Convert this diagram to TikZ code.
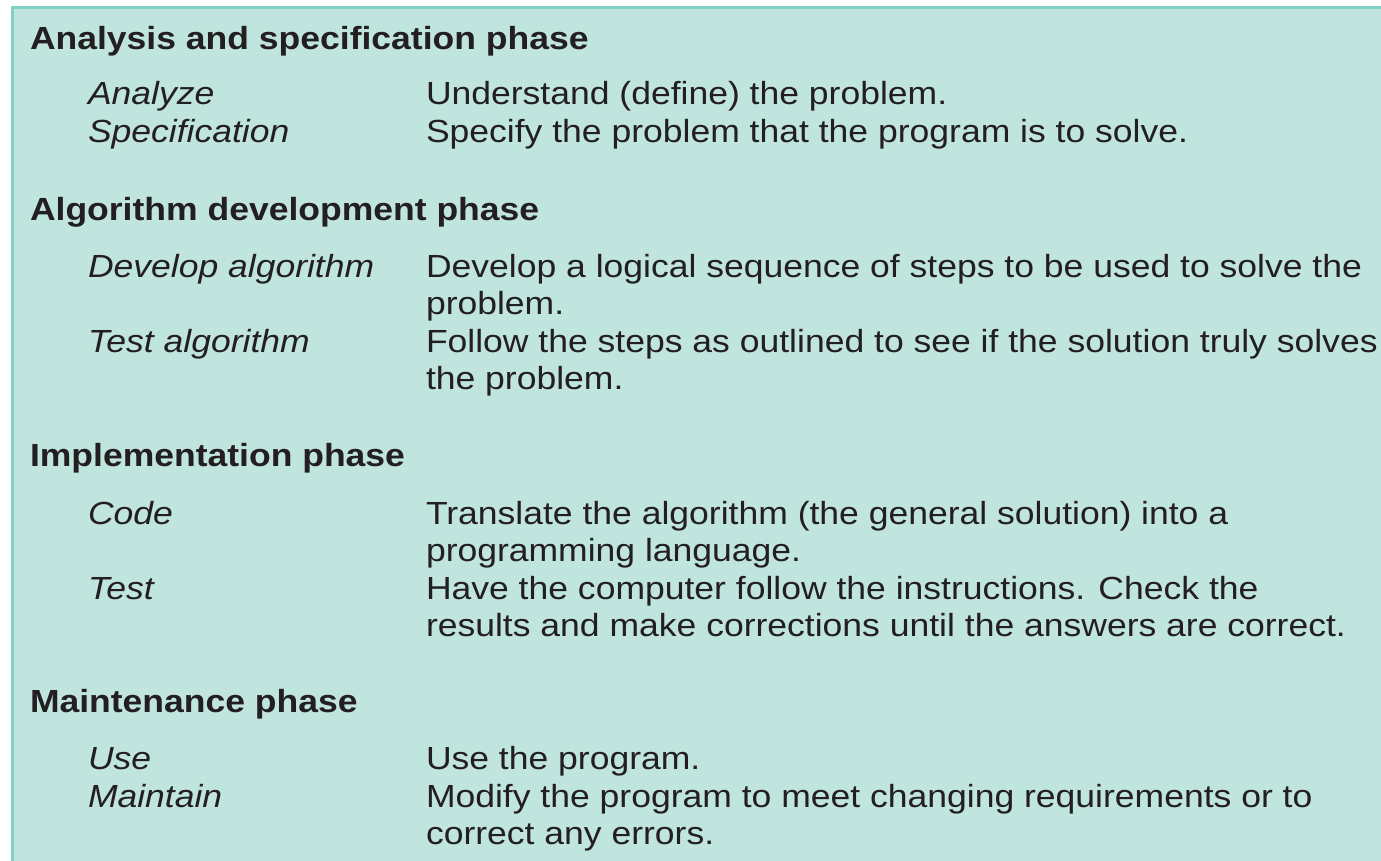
\documentclass[tikz,border=0pt]{standalone}
\usepackage{fontspec}
\setmainfont{Liberation Sans}[FakeStretch=1.11]
\definecolor{boxfill}{HTML}{C0E4DE}
\definecolor{boxline}{HTML}{80D0C6}
\definecolor{ink}{HTML}{231F20}
\begin{document}
\begin{tikzpicture}[x=0.5pt,y=-0.5pt,
  every node/.style={inner sep=0pt,outer sep=0pt,anchor=base west,text=ink,font=\fontsize{16}{19}\selectfont},
  head/.style={font=\fontsize{16}{19}\selectfont\bfseries},
  term/.style={font=\fontsize{16}{19}\selectfont\itshape},
  desc/.style={}]
\useasboundingbox (0,0) rectangle (1381,861);
\path[fill=white] (0,0) rectangle (1381,861);
\draw[boxline,fill=boxfill,line width=1.5pt] (12.5,7.5) rectangle (1420,900);
% phase 1
\node[head] (h1) at (30,49.5) {Analysis and specification phase};
\node[term] (t1a) at (88,105) {Analyze};
\node[desc] (d1a) at (426,105) {Understand (define) the problem.};
\node[term] (t1b) at (88,142.5) {Specification};
\node[desc] (d1b) at (426,142.5) {Specify the problem that the program is to solve.};
% phase 2
\node[head] (h2) at (30,220.5) {Algorithm development phase};
\node[term] (t2a) at (88,277.5) {Develop algorithm};
\node[desc] (d2a) at (426,277.5) {Develop a logical sequence of steps to be used to solve the};
\node[desc] (d2a2) at (426,314.5) {problem.};
\node[term] (t2b) at (88,352.5) {Test algorithm};
\node[desc] (d2b) at (426,352.5) {Follow the steps as outlined to see if the solution truly solves};
\node[desc] (d2b2) at (426,389.5) {the problem.};
% phase 3
\node[head] (h3) at (30,466.5) {Implementation phase};
\node[term] (t3a) at (88,524) {Code};
\node[desc] (d3a) at (426,524) {Translate the algorithm (the general solution) into a};
\node[desc] (d3a2) at (426,561) {programming language.};
\node[term] (t3b) at (88,599) {Test};
\node[desc] (d3b) at (426,599) {Have the computer follow the instructions. Check the};
\node[desc] (d3b2) at (426,636.5) {results and make corrections until the answers are correct.};
% phase 4
\node[head] (h4) at (30,712) {Maintenance phase};
\node[term] (t4a) at (88,769.5) {Use};
\node[desc] (d4a) at (426,769.5) {Use the program.};
\node[term] (t4b) at (88,807) {Maintain};
\node[desc] (d4b) at (426,807) {Modify the program to meet changing requirements or to};
\node[desc] (d4b2) at (426,844.5) {correct any errors.};
\end{tikzpicture}
\end{document}
